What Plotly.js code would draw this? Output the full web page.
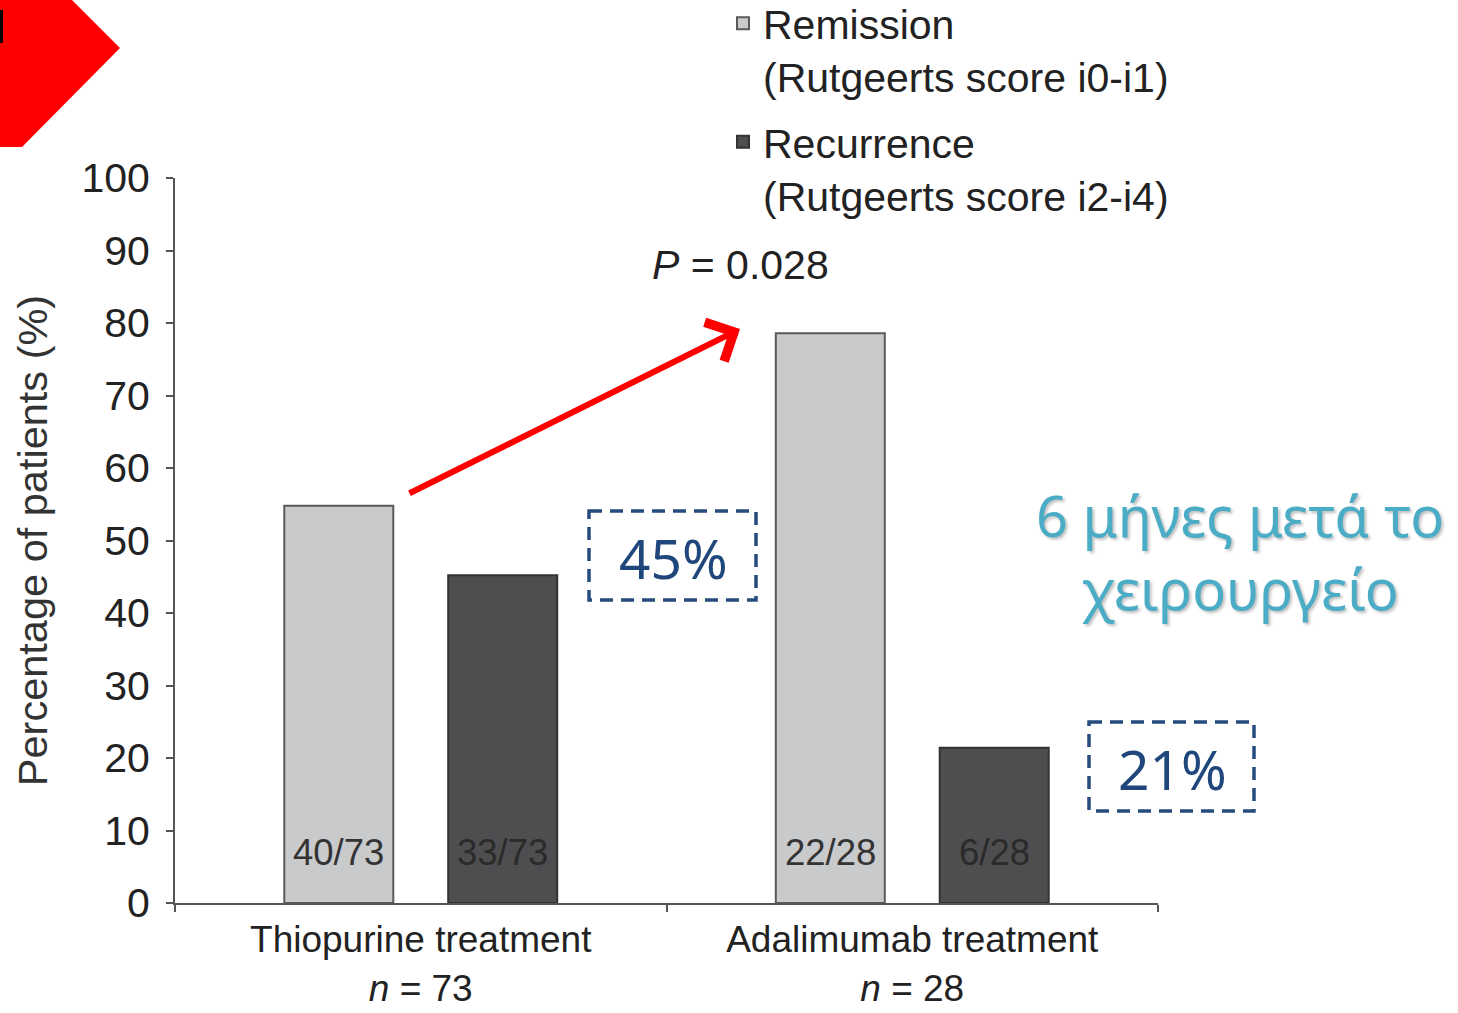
<!DOCTYPE html>
<html>
<head>
<meta charset="utf-8">
<script src="https://cdn.plot.ly/plotly-3.0.1.min.js"></script>
<style>html,body{margin:0;padding:0;background:#fff;}#chart{width:1458px;height:1013px;}</style>
</head>
<body>
<div id="chart"></div>
<script>
// ---- data ----
const categories = ["Thiopurine treatment", "Adalimumab treatment"];
const groupN = [73, 28];
const remissionCounts = [40, 22];
const recurrenceCounts = [33, 6];
const remissionPct = [54.8, 78.6];
const recurrencePct = [45.2, 21.4];
const seriesNames = ["Remission<br>(Rutgeerts score i0-i1)", "Recurrence<br>(Rutgeerts score i2-i4)"];
const yTicks = [0, 10, 20, 30, 40, 50, 60, 70, 80, 90, 100];
const pValueText = "<i>P</i> = 0.028";
const noteText = "6 μήνες μετά το<br>χειρουργείο";

// ---- layout geometry ----
const L = 175, T = 178, W = 983, H = 725;
const xp = p => (p - L) / W;
const yp = p => (T + H - p) / H;

const catLabels = categories.map((c, i) => c + "<br><i>n</i> = " + groupN[i]);

const traces = [
  {
    type: "bar", name: seriesNames[0], x: catLabels, y: remissionPct, legendgroup: "rem",
    marker: {color: "#c9cacc", line: {color: "#5a5a5a", width: 2}},
    hoverinfo: "skip"
  },
  {
    type: "bar", name: seriesNames[1], x: catLabels, y: recurrencePct, legendgroup: "rec",
    marker: {color: "#4e4e50", line: {color: "#333333", width: 2}},
    hoverinfo: "skip"
  }
];

const annotations = [];
const mid = {xanchor: "center", yanchor: "middle", showarrow: false};
// fraction labels inside bars
catLabels.forEach((c, i) => {
  annotations.push(Object.assign({x: c, y: 6.9, xref: "x", yref: "y", xshift: -82,
    text: remissionCounts[i] + "/" + groupN[i], font: {family: "Liberation Sans, Arial", size: 36.5, color: "#333"}}, mid));
  annotations.push(Object.assign({x: c, y: 6.9, xref: "x", yref: "y", xshift: 82,
    text: recurrenceCounts[i] + "/" + groupN[i], font: {family: "Liberation Sans, Arial", size: 36.5, color: "#2a2a2a"}}, mid));
});
// P value
annotations.push(Object.assign({x: xp(740), y: yp(265), xref: "paper", yref: "paper",
  text: pValueText, font: {family: "Liberation Sans, Arial", size: 41, color: "#222"}}, mid));
// red arrow
annotations.push({x: xp(740), y: yp(329), xref: "paper", yref: "paper", ax: 408 - 740, ay: 494 - 329,
  axref: "pixel", ayref: "pixel", showarrow: true, arrowhead: 4, arrowsize: 1.4, arrowwidth: 6,
  arrowcolor: "#ff0000", text: "", standoff: 0});
// percentage boxes text
annotations.push(Object.assign({x: xp(673), y: yp(557), xref: "paper", yref: "paper",
  text: Math.round(recurrenceCounts[0] / groupN[0] * 100) + "%",
  font: {family: "Noto Sans", size: 55, color: "#1f477b"}}, mid));
annotations.push(Object.assign({x: xp(1172), y: yp(768), xref: "paper", yref: "paper",
  text: Math.round(recurrenceCounts[1] / groupN[1] * 100) + "%",
  font: {family: "Noto Sans", size: 55, color: "#1f477b"}}, mid));
// greek note
annotations.push(Object.assign({x: xp(1240), y: yp(551), xref: "paper", yref: "paper", align: "center",
  text: noteText, font: {family: "Noto Sans", size: 56, color: "#4bacc6", shadow: "2px 2px 3px rgba(0,0,0,0.25)"}}, mid));

const shapes = [
  // red pentagon arrow top-left
  {type: "path", xref: "paper", yref: "paper",
   path: `M${xp(-5)},${yp(-5)} L${xp(67)},${yp(-5)} L${xp(120)},${yp(48)} L${xp(22)},${yp(147)} L${xp(-5)},${yp(147)} Z`,
   fillcolor: "#ff0000", line: {width: 0}},
  {type: "rect", xref: "paper", yref: "paper", x0: xp(-3), x1: xp(3), y0: yp(10), y1: yp(43),
   fillcolor: "#000", line: {width: 0}},
  // dashed boxes
  {type: "rect", xref: "paper", yref: "paper", x0: xp(589), x1: xp(756), y0: yp(511), y1: yp(600),
   line: {color: "#264b7d", width: 3.5, dash: "13px,8px"}},
  {type: "rect", xref: "paper", yref: "paper", x0: xp(1089), x1: xp(1254), y0: yp(722), y1: yp(811),
   line: {color: "#264b7d", width: 3.5, dash: "13px,8px"}}
];

const layout = {
  width: 1458, height: 1013,
  margin: {l: L, r: 1458 - L - W, t: T, b: 1013 - T - H, pad: 0, autoexpand: false},
  paper_bgcolor: "#fff", plot_bgcolor: "#fff",
  barmode: "group", bargap: 0.333, bargroupgap: 0.335,
  font: {family: "Liberation Sans, Arial", color: "#222"},
  showlegend: true,
  legend: {x: xp(723), y: yp(-10), xanchor: "left", yanchor: "top", bgcolor: "rgba(0,0,0,0)",
    font: {size: 41, color: "#222"}, valign: "top", tracegroupgap: 9, traceorder: "grouped"},
  xaxis: {
    type: "category", tickson: "boundaries", ticks: "outside", ticklen: 7, tickwidth: 2, tickcolor: "#555",
    showline: true, linecolor: "#555", linewidth: 2, showgrid: false, zeroline: false,
    tickfont: {size: 37, color: "#222"}, ticklabelstandoff: 3, fixedrange: true
  },
  yaxis: {
    range: [0, 100], tickvals: yTicks, ticks: "outside", ticklen: 7, tickwidth: 2, tickcolor: "#555",
    showline: true, linecolor: "#555", linewidth: 2, showgrid: false, zeroline: false,
    tickfont: {size: 41, color: "#222"}, ticklabelstandoff: 8,
    title: {text: "Percentage of patients (%)", font: {size: 41.5, color: "#333"}, standoff: 21},
    fixedrange: true
  },
  annotations: annotations,
  shapes: shapes
};

Plotly.newPlot("chart", traces, layout, {displayModeBar: false, staticPlot: true});
</script>
</body>
</html>
